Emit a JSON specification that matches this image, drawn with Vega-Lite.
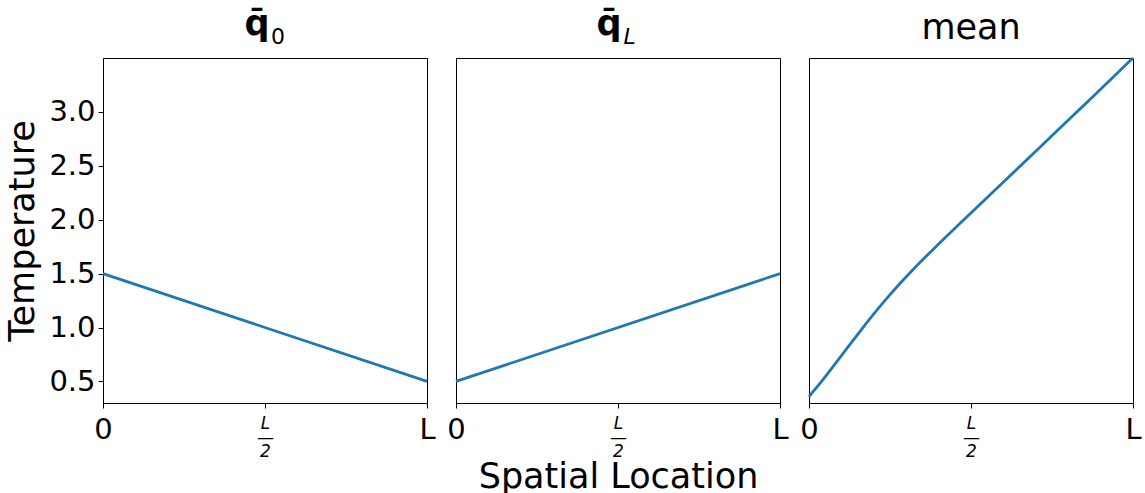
{
  "$schema": "https://vega.github.io/schema/vega-lite/v6.json",
  "background": "white",
  "padding": {"left": 5, "top": 6, "right": 0, "bottom": 0},
  "bounds": "flush",
  "spacing": 29,
  "config": {
    "font": "DejaVu Sans",
    "view": {"stroke": "black", "strokeWidth": 1},
    "axis": {
      "grid": false,
      "domainColor": "black",
      "domainWidth": 1,
      "tickColor": "black",
      "tickWidth": 1,
      "tickSize": 5,
      "labelColor": "black",
      "labelFont": "DejaVu Sans",
      "labelFontSize": 29,
      "titleColor": "black",
      "titleFont": "DejaVu Sans",
      "titleFontSize": 35,
      "titleFontWeight": "normal",
      "labelFlush": false,
      "labelOverlap": false
    },
    "title": {
      "font": "DejaVu Sans",
      "fontSize": 35,
      "color": "black"
    },
    "line": {"stroke": "#1f77b4", "strokeWidth": 2.8, "interpolate": "monotone"}
  },
  "datasets": {
    "q0": [
      {"s": 0, "temperature": 1.5},
      {"s": 1, "temperature": 0.5}
    ],
    "qL": [
      {"s": 0, "temperature": 0.5},
      {"s": 1, "temperature": 1.5}
    ],
    "mean": [
      {"s": 0.0, "temperature": 0.36},
      {"s": 0.04, "temperature": 0.505},
      {"s": 0.08, "temperature": 0.66},
      {"s": 0.12, "temperature": 0.818},
      {"s": 0.16, "temperature": 0.974},
      {"s": 0.2, "temperature": 1.126},
      {"s": 0.24, "temperature": 1.27},
      {"s": 0.28, "temperature": 1.406},
      {"s": 0.32, "temperature": 1.534},
      {"s": 0.36, "temperature": 1.656},
      {"s": 0.4, "temperature": 1.774},
      {"s": 0.46, "temperature": 1.948},
      {"s": 0.52, "temperature": 2.12},
      {"s": 0.58, "temperature": 2.292},
      {"s": 0.64, "temperature": 2.464},
      {"s": 0.7, "temperature": 2.636},
      {"s": 0.76, "temperature": 2.808},
      {"s": 0.82, "temperature": 2.98},
      {"s": 0.88, "temperature": 3.152},
      {"s": 0.94, "temperature": 3.326},
      {"s": 1.0, "temperature": 3.5}
    ]
  },
  "hconcat": [
    {
      "width": 324,
      "height": 345,
      "title": {"text": "q\u0304", "fontWeight": "bold", "dx": -8, "offset": -17},
      "data": {"name": "q0"},
      "layer": [
        {
          "mark": "line",
          "encoding": {
            "x": {
              "field": "s", "type": "quantitative",
              "scale": {"domain": [0, 1], "nice": false, "zero": false},
              "axis": {
                "values": [0, 0.5, 1],
                "title": null,
                "labelPadding": 7,
                "labelLineHeight": 14,
                "labelExpr": "datum.value == 0.5 ? ['L', '\u2014', '2'] : (datum.value == 0 ? '0' : 'L')",
                "labelFontSize": {"condition": {"test": "datum.value == 0.5", "value": 17}, "value": 29},
                "labelFontStyle": {"condition": {"test": "datum.value == 0.5", "value": "italic"}, "value": "normal"}
              }
            },
            "y": {
              "field": "temperature", "type": "quantitative",
              "scale": {"domain": [0.3, 3.5], "nice": false, "zero": false},
              "axis": {
                "values": [0.5, 1, 1.5, 2, 2.5, 3],
                "format": ".1f",
                "title": "Temperature",
                "labelPadding": 3,
                "titlePadding": 8
              }
            }
          }
        },
        {
          "mark": {"type": "line", "strokeOpacity": 0},
          "encoding": {
            "x": {
              "field": "s", "type": "quantitative",
              "axis": {
                "orient": "top", "domain": false, "ticks": false, "labels": false,
                "title": "0", "titleFontSize": 22, "titleX": 174.5, "titleY": -15,
                "titleAlign": "center", "titleBaseline": "alphabetic"
              }
            },
            "y": {"field": "temperature", "type": "quantitative"}
          }
        }
      ],
      "resolve": {"axis": {"x": "independent"}}
    },
    {
      "width": 324,
      "height": 345,
      "title": {"text": "q\u0304", "fontWeight": "bold", "dx": -9, "offset": -17},
      "data": {"name": "qL"},
      "layer": [
        {
          "mark": "line",
          "encoding": {
            "x": {
              "field": "s", "type": "quantitative",
              "scale": {"domain": [0, 1], "nice": false, "zero": false},
              "axis": {
                "values": [0, 0.5, 1],
                "title": "Spatial Location",
                "titlePadding": 0,
                "labelPadding": 7,
                "labelLineHeight": 14,
                "labelExpr": "datum.value == 0.5 ? ['L', '\u2014', '2'] : (datum.value == 0 ? '0' : 'L')",
                "labelFontSize": {"condition": {"test": "datum.value == 0.5", "value": 17}, "value": 29},
                "labelFontStyle": {"condition": {"test": "datum.value == 0.5", "value": "italic"}, "value": "normal"}
              }
            },
            "y": {
              "field": "temperature", "type": "quantitative",
              "scale": {"domain": [0.3, 3.5], "nice": false, "zero": false},
              "axis": null
            }
          }
        },
        {
          "mark": {"type": "line", "strokeOpacity": 0},
          "encoding": {
            "x": {
              "field": "s", "type": "quantitative",
              "axis": {
                "orient": "top", "domain": false, "ticks": false, "labels": false,
                "title": "L", "titleFontSize": 22, "titleFontStyle": "italic", "titleX": 173, "titleY": -15,
                "titleAlign": "center", "titleBaseline": "alphabetic"
              }
            },
            "y": {"field": "temperature", "type": "quantitative"}
          }
        }
      ],
      "resolve": {"axis": {"x": "independent"}}
    },
    {
      "width": 324,
      "height": 345,
      "title": {"text": "mean", "fontWeight": "normal", "offset": 6},
      "data": {"name": "mean"},
      "mark": "line",
      "encoding": {
        "x": {
          "field": "s", "type": "quantitative",
          "scale": {"domain": [0, 1], "nice": false, "zero": false},
          "axis": {
            "values": [0, 0.5, 1],
            "title": null,
            "labelPadding": 7,
            "labelLineHeight": 14,
            "labelExpr": "datum.value == 0.5 ? ['L', '\u2014', '2'] : (datum.value == 0 ? '0' : 'L')",
            "labelFontSize": {"condition": {"test": "datum.value == 0.5", "value": 17}, "value": 29},
            "labelFontStyle": {"condition": {"test": "datum.value == 0.5", "value": "italic"}, "value": "normal"}
          }
        },
        "y": {
          "field": "temperature", "type": "quantitative",
          "scale": {"domain": [0.3, 3.5], "nice": false, "zero": false},
          "axis": null
        }
      }
    }
  ]
}
